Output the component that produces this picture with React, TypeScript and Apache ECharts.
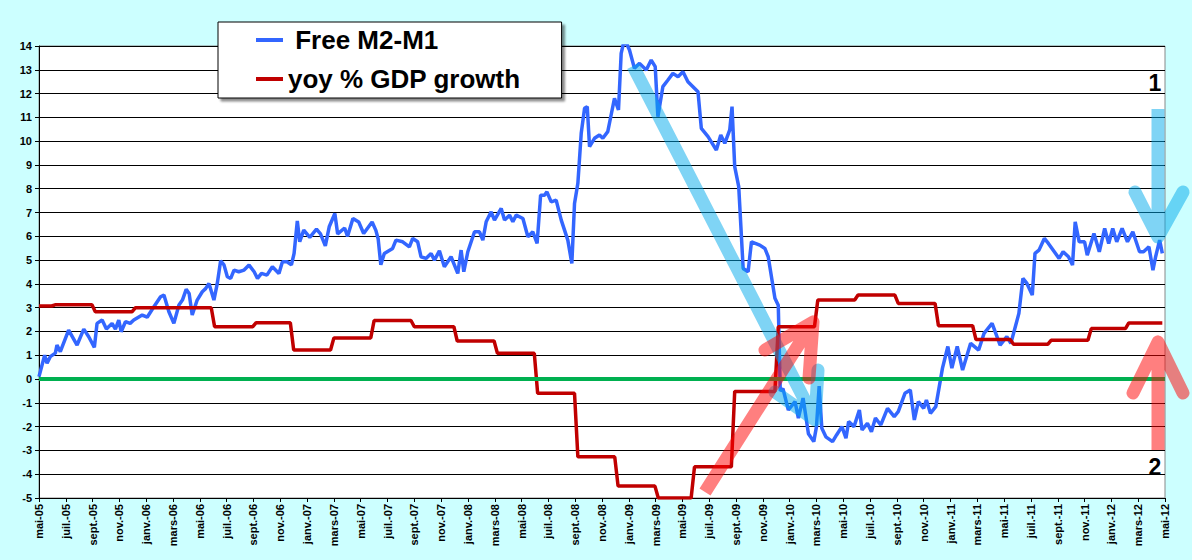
import { useEffect, useRef } from 'react';
import * as echarts from 'echarts';

// x is counted in months from mai-05 (0) to mai-12 (84)
const monthLabels = [
  'mai-05', 'juil.-05', 'sept.-05', 'nov.-05',
  'janv.-06', 'mars-06', 'mai-06', 'juil.-06', 'sept.-06', 'nov.-06',
  'janv.-07', 'mars-07', 'mai-07', 'juil.-07', 'sept.-07', 'nov.-07',
  'janv.-08', 'mars-08', 'mai-08', 'juil.-08', 'sept.-08', 'nov.-08',
  'janv.-09', 'mars-09', 'mai-09', 'juil.-09', 'sept.-09', 'nov.-09',
  'janv.-10', 'mars-10', 'mai-10', 'juil.-10', 'sept.-10', 'nov.-10',
  'janv.-11', 'mars-11', 'mai-11', 'juil.-11', 'sept.-11', 'nov.-11',
  'janv.-12', 'mars-12', 'mai-12',
];

const seriesNames = ['Free M2-M1', 'yoy % GDP growth'];

// [month, value]
const freeM2M1: [number, number][] = [
  [0, 0.1], [0.42, 1.0], [0.6, 0.67], [0.84, 0.94], [1.22, 1.09], [1.34, 1.43], [1.59, 1.15],
  [2.21, 2.06], [2.84, 1.43], [3.34, 2.1], [3.71, 1.78], [4.13, 1.33], [4.33, 2.34], [4.71, 2.48],
  [5.03, 2.1], [5.45, 2.34], [5.7, 2.1], [5.95, 2.48], [6.13, 1.99], [6.45, 2.41], [6.8, 2.34],
  [7.07, 2.48], [7.7, 2.69], [8.07, 2.6], [8.57, 3.04], [9.07, 3.46], [9.32, 3.53], [9.69, 2.83],
  [10.06, 2.34], [10.44, 3.11], [10.7, 3.32], [10.98, 3.77], [11.2, 3.6], [11.43, 2.69], [11.8, 3.32],
  [12.18, 3.67], [12.43, 3.8], [12.68, 4.02], [13.05, 3.32], [13.3, 4.02], [13.55, 4.97], [13.8, 4.8],
  [14.05, 4.3], [14.3, 4.23], [14.55, 4.58], [14.9, 4.51], [15.3, 4.58], [15.67, 4.79], [16.05, 4.51],
  [16.3, 4.23], [16.6, 4.44], [17.0, 4.37], [17.41, 4.72], [17.9, 4.44], [18.16, 4.93], [18.5, 4.93],
  [18.83, 4.8], [19.03, 5.28], [19.27, 6.65], [19.45, 5.77], [19.75, 6.26], [20.2, 5.96], [20.7, 6.3],
  [21.0, 6.1], [21.36, 5.6], [21.65, 6.4], [22.07, 6.96], [22.28, 6.1], [22.8, 6.35], [23.02, 6.0],
  [23.42, 6.75], [23.85, 6.6], [24.22, 6.12], [24.85, 6.6], [25.13, 6.25], [25.3, 5.9], [25.5, 4.8],
  [25.76, 5.28], [26.38, 5.49], [26.63, 5.84], [27.13, 5.77], [27.63, 5.56], [27.88, 5.91], [28.25, 5.77],
  [28.5, 5.14], [28.87, 5.07], [29.25, 5.28], [29.5, 5.0], [29.87, 5.39], [30.24, 4.72], [30.74, 5.14],
  [31.24, 4.44], [31.49, 5.42], [31.69, 4.51], [31.99, 5.35], [32.49, 6.19], [32.86, 6.19], [33.11, 5.84],
  [33.36, 6.61], [33.73, 7.03], [33.98, 6.68], [34.48, 7.17], [34.73, 6.68], [35.1, 6.89], [35.35, 6.61],
  [35.6, 6.89], [36.1, 6.75], [36.47, 5.98], [36.84, 6.19], [37.16, 5.7], [37.42, 7.73], [37.71, 7.73],
  [37.89, 7.87], [38.21, 7.45], [38.58, 7.52], [38.96, 6.68], [39.45, 5.84], [39.75, 4.86], [39.95, 7.38],
  [40.2, 8.23], [40.45, 10.33], [40.7, 11.38], [40.9, 11.45], [41.07, 9.77], [41.44, 10.12], [41.81, 10.26],
  [42.06, 10.12], [42.43, 10.4], [42.68, 11.1], [42.93, 11.8], [43.23, 11.31], [43.43, 13.69], [43.68, 14.3],
  [44.05, 13.83], [44.42, 13.06], [44.8, 13.27], [45.3, 12.99], [45.67, 13.41], [45.97, 13.13], [46.17, 11.03],
  [46.54, 12.29], [46.92, 12.57], [47.29, 12.85], [47.67, 12.71], [48.04, 12.92], [48.41, 12.5], [49.16, 12.08],
  [49.41, 10.54], [49.91, 10.19], [50.53, 9.63], [50.86, 10.26], [51.16, 9.91], [51.53, 10.47], [51.7, 11.45],
  [51.9, 8.93], [52.2, 8.09], [52.53, 4.65], [52.9, 4.51], [53.15, 5.77], [53.77, 5.63], [54.15, 5.49],
  [54.4, 5.14], [54.9, 3.4], [55.15, 3.1], [55.3, -0.5], [55.5, -0.4], [55.9, -1.3], [56.4, -0.95],
  [56.65, -1.64], [57.0, -0.8], [57.4, -2.3], [57.8, -2.63], [58.0, -2.0], [58.2, -0.3], [58.4, -2.07],
  [58.7, -2.43], [59.2, -2.63], [59.5, -2.35], [59.9, -2.0], [60.2, -2.49], [60.4, -1.79], [60.8, -2.0],
  [61.2, -1.3], [61.4, -2.14], [61.8, -1.86], [62.1, -2.21], [62.4, -1.64], [62.8, -1.93], [63.3, -1.23],
  [63.8, -1.58], [64.1, -1.37], [64.6, -0.6], [65.0, -0.46], [65.3, -1.72], [65.6, -0.95], [66.0, -1.23],
  [66.2, -0.88], [66.5, -1.44], [66.9, -1.16], [67.4, 0.46], [67.8, 1.37], [68.1, 0.46], [68.5, 1.37],
  [68.9, 0.38], [69.5, 1.5], [70.1, 1.22], [70.5, 1.92], [71.1, 2.34], [71.7, 1.43], [72.2, 1.78],
  [72.5, 1.5], [73.1, 2.76], [73.4, 4.23], [73.7, 4.02], [74.1, 3.53], [74.3, 5.28], [74.6, 5.42],
  [75.0, 5.91], [75.3, 5.7], [76.1, 5.07], [76.4, 5.35], [76.8, 5.14], [77.1, 4.79], [77.3, 6.61],
  [77.6, 5.77], [78.0, 5.77], [78.2, 5.21], [78.7, 6.12], [79.1, 5.35], [79.5, 6.33], [79.8, 5.7],
  [80.1, 6.33], [80.4, 5.77], [80.8, 6.33], [81.2, 5.77], [81.6, 6.19], [82.1, 5.35], [82.4, 5.35],
  [82.8, 5.56], [83.1, 4.58], [83.3, 5.14], [83.6, 5.84], [83.8, 5.28],
];

// quarterly GDP growth: month where each level starts, and the level
const gdpStart = [
  0, 1.2, 4.2, 7.2, 13.1, 16.2, 19.0, 22.0, 25.0, 28.0, 31.2, 34.2, 37.2, 40.2,
  43.2, 46.2, 48.9, 51.9, 55.15, 58.1, 61.1, 64.1, 67.1, 69.9, 72.7, 75.5, 78.5, 81.3,
];
const gdpValue = [
  3.07, 3.12, 2.83, 3.0, 2.2, 2.37, 1.22, 1.73, 2.46, 2.2, 1.6, 1.08, -0.6, -3.27,
  -4.5, -5.0, -3.69, -0.52, 2.2, 3.32, 3.53, 3.18, 2.24, 1.66, 1.46, 1.63, 2.12, 2.36,
];
const gdpEnd = 83.8;

const zeroLine: [number, number][] = [[0, 0], [84, 0]];

const FONT = '"Liberation Sans", Arial, sans-serif';

function gdpSteps(): [number, number][] {
  const pts: [number, number][] = [];
  gdpStart.forEach((s, i) => {
    const next = i + 1 < gdpStart.length ? gdpStart[i + 1] - 0.25 : gdpEnd;
    pts.push([s, gdpValue[i]], [next, gdpValue[i]]);
  });
  return pts;
}

// arrow drawn as one stroke so the translucent colour does not double up
function arrow(start: number[], tip: number[], a1: number[], a2: number[], color: string) {
  return {
    type: 'polyline',
    z: 100,
    silent: true,
    shape: { points: [start, tip, a1, tip, a2, tip] },
    style: { stroke: color, lineWidth: 13, lineJoin: 'round', lineCap: 'butt', fill: null },
  };
}

export default function App() {
  const ref = useRef<HTMLDivElement>(null);

  useEffect(() => {
    document.body.style.margin = '0';
    if (!ref.current) return;
    const chart = echarts.init(ref.current, undefined, { renderer: 'svg' });

    const lightBlue = 'rgba(0,170,235,0.5)';
    const lightRed = 'rgba(255,0,0,0.5)';

    chart.setOption({
      animation: false,
      backgroundColor: '#ccffff',
      textStyle: { fontFamily: FONT },
      grid: {
        left: 39, right: 27, top: 46, bottom: 62,
        show: true, backgroundColor: '#ffffff', borderColor: '#888888', borderWidth: 1,
      },
      legend: {
        data: seriesNames,
        orient: 'vertical',
        left: 218,
        top: 22,
        padding: [3, 41, 4, 38],
        itemGap: 9,
        itemWidth: 27,
        itemHeight: 4,
        icon: 'rect',
        selectedMode: false,
        backgroundColor: '#ffffff',
        borderColor: '#000000',
        borderWidth: 1,
        shadowColor: 'rgba(0,0,0,0.45)',
        shadowBlur: 2,
        shadowOffsetX: 3,
        shadowOffsetY: 3,
        formatter: (name: string) => (name === 'Free M2-M1' ? ' ' + name : name),
        textStyle: { fontSize: 26, fontWeight: 'bold', color: '#000', lineHeight: 30, fontFamily: FONT },
      },
      xAxis: {
        type: 'value',
        min: 0,
        max: 84,
        interval: 2,
        splitLine: { show: false },
        axisLine: { show: true, onZero: false, lineStyle: { color: '#000', width: 1 } },
        axisTick: { show: true, length: 4, lineStyle: { color: '#000' } },
        axisLabel: {
          rotate: 90,
          margin: 6,
          fontSize: 11,
          fontWeight: 'bold',
          color: '#000',
          fontFamily: FONT,
          formatter: (v: number) => monthLabels[Math.round(v / 2)] ?? '',
        },
      },
      yAxis: {
        type: 'value',
        min: -5,
        max: 14,
        interval: 1,
        splitLine: { show: true, lineStyle: { color: '#000', width: 1 } },
        axisLine: { show: true, lineStyle: { color: '#000', width: 1 } },
        axisTick: { show: true, length: 4, lineStyle: { color: '#000' } },
        axisLabel: { margin: 7, fontSize: 11, fontWeight: 'bold', color: '#000', fontFamily: FONT },
      },
      series: [
        {
          name: seriesNames[0],
          type: 'line',
          data: freeM2M1,
          symbol: 'none',
          color: '#3366ff',
          lineStyle: { color: '#3366ff', width: 3.5 },
        },
        {
          name: seriesNames[1],
          type: 'line',
          data: gdpSteps(),
          symbol: 'none',
          color: '#c00000',
          lineStyle: { color: '#c00000', width: 3.5 },
        },
        {
          name: 'zero',
          type: 'line',
          data: zeroLine,
          symbol: 'none',
          silent: true,
          lineStyle: { color: '#00b050', width: 4 },
        },
      ],
      graphic: [
        arrow([633, 66], [815, 420], [818, 370], [775, 392], lightBlue),
        arrow([705, 492], [813, 322], [765, 350], [809, 378], lightRed),
        arrow([1158, 109], [1158, 237], [1135, 192], [1183, 192], lightBlue),
        arrow([1158, 450], [1158, 342], [1133, 393], [1183, 393], lightRed),
        {
          type: 'text', x: 1155, y: 83, z: 100,
          style: { text: '1', font: `bold 23px ${FONT}`, fill: '#000', align: 'center', verticalAlign: 'middle' },
        },
        {
          type: 'text', x: 1155, y: 467, z: 100,
          style: { text: '2', font: `bold 23px ${FONT}`, fill: '#000', align: 'center', verticalAlign: 'middle' },
        },
      ],
    });

    return () => chart.dispose();
  }, []);

  return <div ref={ref} style={{ width: 1192, height: 560 }} />;
}
